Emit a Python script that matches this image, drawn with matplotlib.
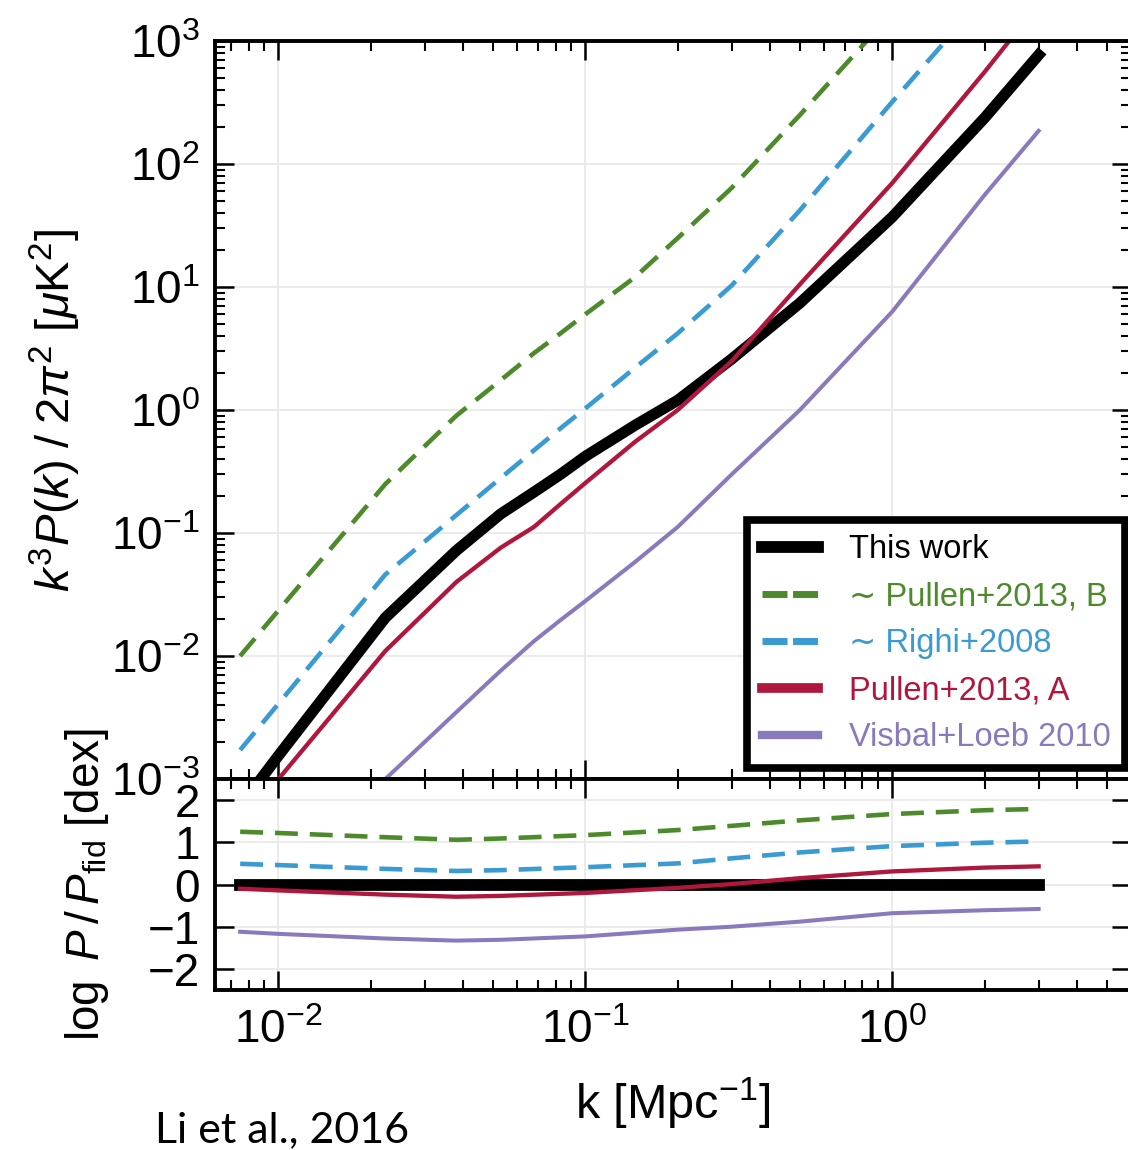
import matplotlib
matplotlib.use("Agg")
import matplotlib.pyplot as plt
from matplotlib.ticker import LogLocator, FixedLocator, NullFormatter

plt.rcParams['font.family'] = ['Liberation Sans', 'DejaVu Sans']
plt.rcParams['mathtext.fontset'] = 'custom'
plt.rcParams['mathtext.rm'] = 'Liberation Sans'
plt.rcParams['mathtext.it'] = 'Liberation Sans:italic'
plt.rcParams['mathtext.bf'] = 'Liberation Sans:bold'

# ---------------- data ----------------
K_TOP = [0.0075, 0.01, 0.0223, 0.038, 0.053, 0.068, 0.083, 0.1, 0.145, 0.2, 0.3, 0.5, 1.0, 2.0, 3.0]
THIS_WORK = [6.0e-4, 1.55e-3, 0.0205, 0.072, 0.143, 0.215, 0.30, 0.42, 0.75, 1.2, 2.6, 7.4, 37, 237, 770]
PULLEN_B = [0.0100, 0.0235, 0.25, 0.90, 1.75, 2.9, 4.2, 6.0, 12.0, 25, 64, 250, 1700, 14000, 50000]
RIGHI = [1.72e-3, 4.1e-3, 0.046, 0.14, 0.28, 0.47, 0.71, 1.03, 2.2, 4.2, 10.3, 42, 320, 2300, 7500]
PULLEN_A = [4.5e-4, 1.0e-3, 0.011, 0.040, 0.076, 0.112, 0.172, 0.255, 0.55, 1.0, 2.5, 10.5, 70, 560, 2000]
VISBAL = [4.2e-5, 8.7e-5, 1.0e-3, 3.5e-3, 7.6e-3, 0.0132, 0.0196, 0.028, 0.058, 0.112, 0.30, 1.0, 6.3, 56, 186]

K_RATIO = [0.0075, 0.01, 0.0223, 0.038, 0.053, 0.1, 0.2, 0.3, 0.5, 1.0, 2.0, 3.0]
R_THIS = [0, 0, 0, 0, 0, 0, 0, 0, 0, 0, 0, 0]
R_PULLEN_B = [1.25, 1.22, 1.12, 1.06, 1.09, 1.17, 1.29, 1.39, 1.52, 1.67, 1.76, 1.79]
R_RIGHI = [0.49, 0.46, 0.37, 0.32, 0.34, 0.41, 0.50, 0.62, 0.76, 0.91, 0.99, 1.02]
R_PULLEN_A = [-0.10, -0.14, -0.24, -0.29, -0.27, -0.20, -0.08, 0.01, 0.15, 0.31, 0.40, 0.43]
R_VISBAL = [-1.12, -1.17, -1.28, -1.33, -1.31, -1.23, -1.07, -1.00, -0.88, -0.68, -0.61, -0.58]

LABELS = ['This work', '\u223c Pullen+2013, B', '\u223c Righi+2008',
          'Pullen+2013, A', 'Visbal+Loeb 2010']
COLORS = ['#000000', '#4d8a2b', '#3a9ad2', '#b0173c', '#8a79bc']

# ---------------- figure ----------------
W, H = 1128, 1150
fig = plt.figure(figsize=(W / 100, H / 100), dpi=100)
left, right = 215, 1131
ax1 = fig.add_axes([left / W, 1 - 779 / H, (right - left) / W, (779 - 41) / H])
ax2 = fig.add_axes([left / W, 1 - 990 / H, (right - left) / W, (990 - 779) / H])

dash = (5, 2.6)

top_series = [THIS_WORK, PULLEN_B, RIGHI, PULLEN_A, VISBAL]
bot_series = [R_THIS, R_PULLEN_B, R_RIGHI, R_PULLEN_A, R_VISBAL]
widths = [8.0, 3.3, 3.3, 3.1, 2.9]
for i, (ys, lab, col, lw) in enumerate(zip(top_series, LABELS, COLORS, widths)):
    kw = dict(color=col, lw=lw, label=lab)
    if i == 0:
        kw['solid_capstyle'] = 'projecting'
    if i in (1, 2):
        kw['dashes'] = dash
    ax1.plot(K_TOP, ys, **kw)
for i, (ys, col, lw) in enumerate(zip(bot_series, COLORS, widths)):
    kw = dict(color=col, lw=lw)
    if i == 0:
        kw['solid_capstyle'] = 'projecting'
        kw['lw'] = 8.5
    if i in (1, 2):
        kw['dashes'] = dash
    ax2.plot(K_RATIO, ys, **kw)

for ax in (ax1, ax2):
    ax.set_xscale('log')
    ax.set_xlim(0.00621, 6.0)
    ax.xaxis.set_major_locator(LogLocator(base=10, numticks=20))
    ax.xaxis.set_minor_locator(LogLocator(base=10, subs=range(2, 10), numticks=20))
    ax.xaxis.set_minor_formatter(NullFormatter())
    ax.grid(True, which='major', color='#e9e9e9', lw=1.3)
    ax.set_axisbelow(True)
    ax.tick_params(which='major', direction='in', length=14, width=1.8,
                   top=True, right=True, labelsize=33, pad=11)
    ax.tick_params(which='minor', direction='in', length=7.5, width=1.5,
                   top=True, right=True)
    for sp in ax.spines.values():
        sp.set_linewidth(2.8)

ax1.set_yscale('log')
ax1.set_ylim(1e-3, 1e3)
ax1.yaxis.set_major_locator(LogLocator(base=10, numticks=20))
ax1.yaxis.set_minor_locator(LogLocator(base=10, subs=range(2, 10), numticks=20))
ax1.yaxis.set_minor_formatter(NullFormatter())
ax1.tick_params(labelbottom=False)

ax2.set_ylim(-2.5, 2.5)
ax2.yaxis.set_major_locator(FixedLocator([-2, -1, 0, 1, 2]))
ax2.tick_params(axis='x', which='major', pad=14)

ax1.set_ylabel(r'$k^3P(k)\;/\;2\pi^2\ [\mu\mathrm{K}^2]$', fontsize=34, labelpad=20)
ax2.set_ylabel(r'$\log\ P\,/\,P_{\mathrm{fid}}$ [dex]', fontsize=33, labelpad=26)
ax2.set_xlabel(r'k [Mpc$^{-1}$]', fontsize=35, labelpad=16)

leg = ax1.legend(loc='lower right', bbox_to_anchor=(0.9935, 0.015), fontsize=23.5,
                 frameon=True, fancybox=False, edgecolor='k', framealpha=1,
                 borderpad=0.45, handlelength=1.7, handletextpad=0.95,
                 labelspacing=0.49, borderaxespad=0)
leg.get_frame().set_linewidth(5.5)
leg_w = [8.5, 5.0, 5.0, 7.0, 6.0]
for txt, ln, col, lw in zip(leg.get_texts(), leg.get_lines(), COLORS, leg_w):
    txt.set_color(col)
    ln.set_linewidth(lw)
for ln in leg.get_lines()[1:3]:
    ln.set_dashes((3.6, 0.8))

fig.text(155 / W, 1 - 1142 / H, 'Li et al., 2016', fontsize=31,
         family=['Lato', 'DejaVu Sans'], va='baseline', ha='left')

fig.savefig('out.png', dpi=100)
